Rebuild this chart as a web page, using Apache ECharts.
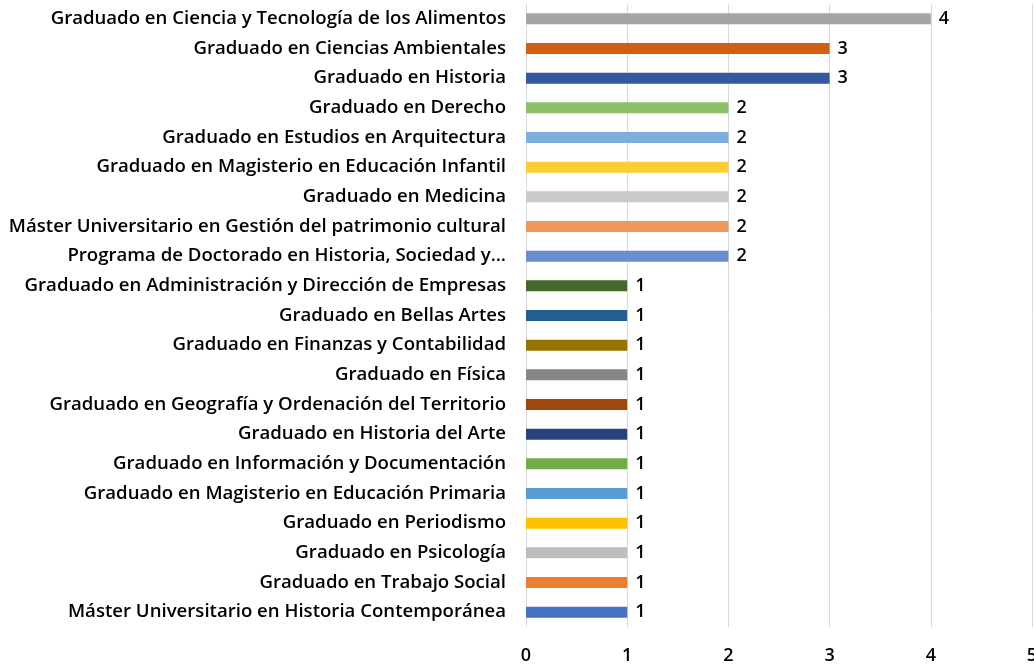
<!DOCTYPE html>
<html>
<head>
<meta charset="utf-8">
<script src="https://cdn.jsdelivr.net/npm/echarts@6/dist/echarts.min.js"></script>
<style>
  html, body { margin: 0; padding: 0; background: #fff; }
  #chart { width: 1034px; height: 665px; }
</style>
</head>
<body>
<div id="chart"></div>
<script>
// categories, top to bottom
const categories = [
  'Graduado en Ciencia y Tecnología de los Alimentos',
  'Graduado en Ciencias Ambientales',
  'Graduado en Historia',
  'Graduado en Derecho',
  'Graduado en Estudios en Arquitectura',
  'Graduado en Magisterio en Educación Infantil',
  'Graduado en Medicina',
  'Máster Universitario en Gestión del patrimonio cultural',
  'Programa de Doctorado en Historia, Sociedad y…',
  'Graduado en Administración y Dirección de Empresas',
  'Graduado en Bellas Artes',
  'Graduado en Finanzas y Contabilidad',
  'Graduado en Física',
  'Graduado en Geografía y Ordenación del Territorio',
  'Graduado en Historia del Arte',
  'Graduado en Información y Documentación',
  'Graduado en Magisterio en Educación Primaria',
  'Graduado en Periodismo',
  'Graduado en Psicología',
  'Graduado en Trabajo Social',
  'Máster Universitario en Historia Contemporánea'
];
const values = [4, 3, 3, 2, 2, 2, 2, 2, 2, 1, 1, 1, 1, 1, 1, 1, 1, 1, 1, 1, 1];
const barColors = [
  '#A5A5A5', '#D26012', '#335AA1', '#8CC168', '#7CAFDD', '#FFCD33', '#CACACA',
  '#F1975A', '#698ED0', '#43682B', '#255E91', '#997300', '#878787', '#9E480E',
  '#264478', '#70AD47', '#5B9BD5', '#FFC000', '#BDBDBD', '#ED7D31', '#4472C4'
];
const xTicks = [0, 1, 2, 3, 4, 5];

const font = '"Open Sans", Roboto, sans-serif';
const chart = echarts.init(document.getElementById('chart'));
chart.setOption({
  animation: false,
  grid: { left: 526, right: 2, top: 4, bottom: 38, containLabel: false, outerBoundsMode: 'none' },
  xAxis: {
    type: 'value',
    min: xTicks[0],
    max: xTicks[xTicks.length - 1],
    interval: 1,
    axisLine: { show: false },
    axisTick: { show: false },
    splitLine: { lineStyle: { color: '#D9D9D9', width: 1 } },
    axisLabel: { color: '#000', fontFamily: font, fontSize: 18, fontWeight: 600, margin: 20 }
  },
  yAxis: {
    type: 'category',
    inverse: true,
    data: categories,
    axisLine: { show: false },
    axisTick: { show: false },
    axisLabel: { color: '#000', fontFamily: font, fontSize: 18.6, fontWeight: 600, margin: 20 }
  },
  series: [{
    type: 'bar',
    barWidth: 11,
    data: values.map((v, i) => ({ value: v, itemStyle: { color: barColors[i] } })),
    label: {
      show: true,
      position: 'right',
      distance: 8,
      color: '#000',
      fontFamily: font,
      fontSize: 18,
      fontWeight: 600
    }
  }]
});
</script>
</body>
</html>
